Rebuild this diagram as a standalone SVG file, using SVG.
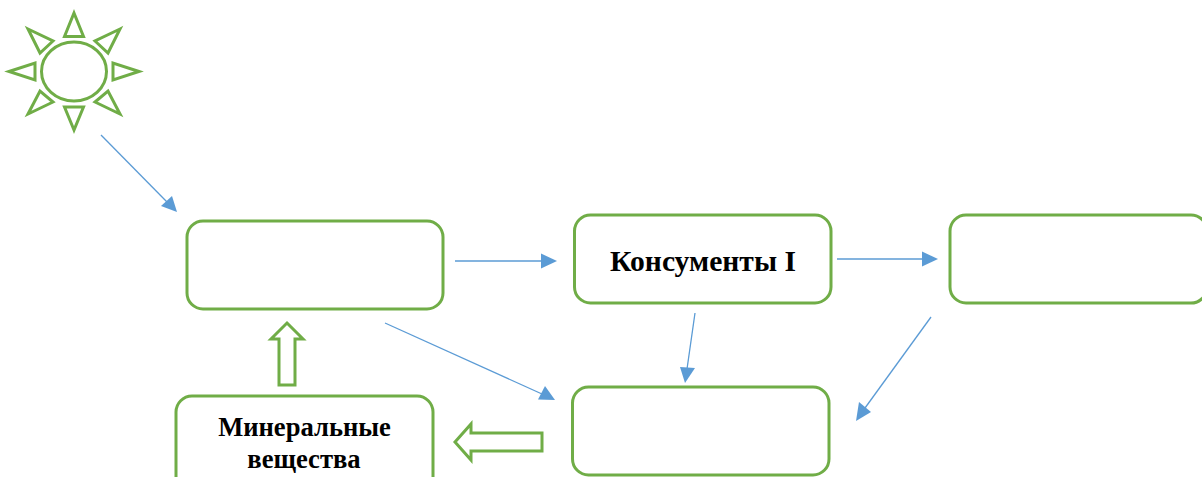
<svg xmlns="http://www.w3.org/2000/svg" width="1202" height="477" viewBox="0 0 1202 477">
<style>
.s{fill:#fff;stroke:#70ad47;stroke-width:3}
.c{stroke:#5b9bd5;stroke-width:1.3;fill:none}
.h{fill:#5b9bd5;stroke:none}
text{font-family:"Liberation Serif","Times New Roman",serif;font-weight:bold;font-size:26.600px;fill:#000;text-anchor:middle}
</style>
<rect width="1202" height="477" fill="#fff"/>
<g id="sun" class="s">
<ellipse cx="74" cy="71.500" rx="32.500" ry="29.500"/>
<polygon points="74,13 83.500,36.500 64.500,36.500"/>
<polygon points="74,130 64.500,107 83.500,107"/>
<polygon points="9,71.500 35,63 35,80"/>
<polygon points="139,71.500 113,63 113,80"/>
<polygon points="28,29 53,41 40,53"/>
<polygon points="120,29 95,41 108,53"/>
<polygon points="28,114 40,91 53,102"/>
<polygon points="120,114 108,91 95,102"/>
</g>
<g id="connectors">
<line class="c" x1="101" y1="135" x2="167" y2="202"/><polygon class="h" points="177,212 161,206 172,196"/>
<line class="c" x1="455" y1="261" x2="543" y2="261"/><polygon class="h" points="557,261 541,253.500 541,268.500"/>
<line class="c" x1="837" y1="259" x2="924" y2="259"/><polygon class="h" points="938,259 922,251.500 922,266.500"/>
<line class="c" x1="695" y1="313" x2="687" y2="369"/><polygon class="h" points="685,383 680,367 695,368"/>
<line class="c" x1="931" y1="317" x2="865" y2="408"/><polygon class="h" points="856,421 859,402 871,412"/>
<line class="c" x1="385" y1="323" x2="542" y2="394"/><polygon class="h" points="555,400 538,399.500 545,386"/>
</g>
<g id="arrow-up"><polygon class="s" points="287,323 303,339 295,339 295,385 279,385 279,339 271,339"/></g>
<g id="arrow-left"><polygon class="s" points="455,442 471,424 471,433 542,433 542,451 471,451 471,460"/></g>
<g id="producers"><rect class="s" x="187" y="221" width="256" height="88" rx="16"/></g>
<g id="consumers-1"><rect class="s" x="574.500" y="215" width="256.500" height="88" rx="16"/><text x="703" y="271" style="font-size:29.600px">Консументы I</text></g>
<g id="consumers-2"><rect class="s" x="950" y="215" width="257" height="88" rx="16"/></g>
<g id="decomposers"><rect class="s" x="572.500" y="387" width="256.500" height="88" rx="16"/></g>
<g id="minerals"><rect class="s" x="176" y="396" width="257" height="100" rx="16"/><text x="304.500" y="436">Минеральные</text><text x="304" y="468">вещества</text></g>
</svg>
